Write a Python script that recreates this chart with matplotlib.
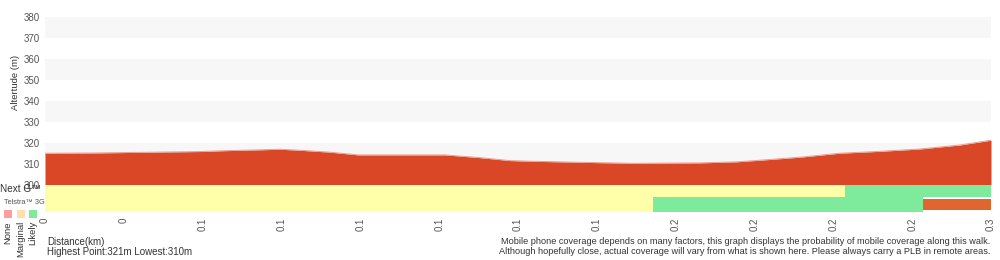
import matplotlib
matplotlib.use('Agg')
import matplotlib.pyplot as plt
import numpy as np

plt.rcParams['font.family'] = ['Liberation Sans', 'DejaVu Sans']

# --- DADOS ---
dist_km = [0.0, 0.0146, 0.0390, 0.0492, 0.0568, 0.0676, 0.0745, 0.0809, 0.0904,
           0.0993, 0.1268, 0.1379, 0.1474, 0.1538, 0.1690, 0.1865, 0.2077, 0.2194,
           0.2261, 0.2394, 0.2521, 0.2648, 0.2774, 0.2901, 0.3]
altitude = [315.1, 315.2, 315.7, 315.9, 316.3, 316.7, 317.0, 316.5, 315.6,
            314.3, 314.3, 313.0, 311.6, 311.3, 310.8, 310.3, 310.5, 311.0,
            311.7, 313.2, 315.1, 316.0, 317.1, 319.0, 321.3]

tick_labels = ['0', '0', '0.1', '0.1', '0.1', '0.1', '0.1', '0.1',
               '0.2', '0.2', '0.2', '0.2', '0.3']

# cobertura: (inicio, fim, nivel)
nextg_segs = [(0.0, 0.2537, 'Marginal'), (0.2537, 0.3, 'Likely')]
g3_segs = [(0.0, 0.1928, 'Marginal'), (0.1928, 0.2784, 'Likely'), (0.2784, 0.3, 'None')]

cov_colors = {'None': '#e0652f', 'Marginal': '#ffffaa', 'Likely': '#7deb9b'}
legend_names = ['None', 'Marginal', 'Likely']
legend_colors = ['#ff9e9e', '#ffe0aa', '#7fea9a']

# --- FIGURA ---
W, H = 1000, 260
fig = plt.figure(figsize=(10, 2.6), dpi=100)
ax = fig.add_axes([45 / W, 1 - 212 / H, 946 / W, 195 / H])

ymin, ymax = 287.1, 380
for lo in range(310, 380, 20):
    ax.axhspan(lo, lo + 10, color='#f7f7f7', lw=0, zorder=0)

ax.fill_between(dist_km, 300, altitude, color='#da4727', lw=0, zorder=2)
ax.plot(dist_km, altitude, color='#eaa090', lw=0.7, zorder=3)

# linhas de cobertura
row_ng = (294.3, 300 - 294.3)
row_3g = (ymin, 294.3 - ymin)
for a, b, lvl in nextg_segs:
    ax.broken_barh([(a, b - a)], row_ng, color=cov_colors[lvl], lw=0, zorder=2)
for a, b, lvl in g3_segs:
    if lvl == 'None':
        ax.broken_barh([(a, b - a)], (288.1, 5.2), color=cov_colors[lvl], lw=0, zorder=2)
    else:
        ax.broken_barh([(a, b - a)], row_3g, color=cov_colors[lvl], lw=0, zorder=2)

ax.set_xlim(0, 0.3)
ax.set_ylim(ymin, ymax)
ax.set_yticks(np.arange(300, 381, 10))
ax.set_xticks(np.linspace(0, 0.3, len(tick_labels)))
ax.set_xticklabels(tick_labels, rotation=90)
ax.tick_params(axis='both', length=0, labelsize=7, labelcolor='#555555', pad=4)
for s in ax.spines.values():
    s.set_visible(False)

# --- TEXTOS ---
def ftext(x, y, s, **kw):
    fig.text(x / W, 1 - y / H, s, **kw)

ftext(16, 82, 'Altertude (m)', rotation=90, ha='center', va='center', fontsize=6.8, color='#333333')
ftext(0, 189, 'Next G\u2122', ha='left', va='center', fontsize=7.2, color='#333333')
ftext(4, 203, 'Telstra\u2122 3G', ha='left', va='center', fontsize=5.3, color='#555555')

for i, (name, col) in enumerate(zip(legend_names, legend_colors)):
    x0 = 4 + i * 12.5
    fig.patches.append(plt.Rectangle((x0 / W, 1 - 218 / H), 8 / W, 8 / H,
                                     transform=fig.transFigure, color=col, lw=0))
    ftext(x0 + 4, 221, name, rotation=90, ha='center', va='top', fontsize=6.8, color='#333333')

ftext(47, 242, 'Distance(km)', ha='left', va='center', fontsize=7, color='#333333')
ftext(47, 252, 'Highest Point:321m Lowest:310m', ha='left', va='center', fontsize=7, color='#333333')
ftext(990, 242, 'Mobile phone coverage depends on many factors, this graph displays the probability of mobile coverage along this walk.',
      ha='right', va='center', fontsize=6.6, color='#333333')
ftext(990, 252, 'Although hopefully close, actual coverage will vary from what is shown here. Please always carry a PLB in remote areas.',
      ha='right', va='center', fontsize=6.6, color='#333333')

fig.savefig('out.png', dpi=100)
